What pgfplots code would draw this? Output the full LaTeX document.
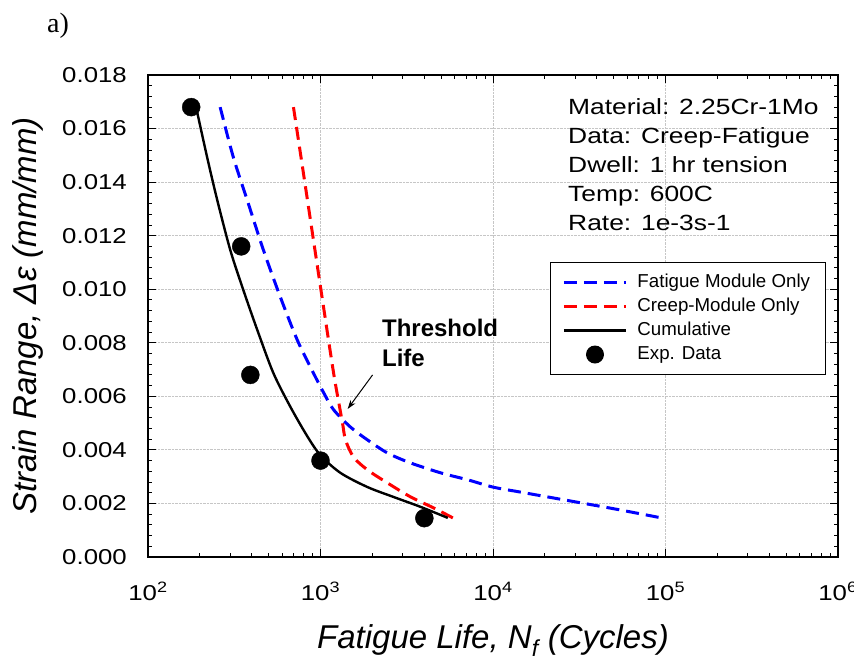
\documentclass[border=0pt]{standalone}
\usepackage{fontspec}
\setmainfont{Liberation Sans}
\newfontfamily\widesans{Liberation Sans}[FakeStretch=1.2]
\newfontfamily\serifa{Liberation Serif}
\usepackage{pgfplots}
\pgfplotsset{compat=1.18}
\usetikzlibrary{arrows.meta}
\pgfplotsset{
  lineleg/.style={legend image code/.code={\draw[##1] (0pt,0pt) -- (62pt,0pt);}},
  markleg/.style={legend image code/.code={\path[draw=none] (0pt,0pt) -- (62pt,0pt); \fill[black, draw=none] (31pt,0pt) circle[radius=9pt];}},
}

\begin{document}
\begin{tikzpicture}
\begin{axis}[
    at={(0pt,0pt)}, anchor=south west,
    scale only axis, width=690pt, height=482pt,
    xmode=log, xmin=100, xmax=1e6,
    ymin=0, ymax=0.018,
    xtick={100,1000,10000,100000,1000000},
    xticklabels={10\textsuperscript{2},10\textsuperscript{3},10\textsuperscript{4},10\textsuperscript{5},10\textsuperscript{6}},
    minor xtick={200,300,400,500,600,700,800,900,
                 2000,3000,4000,5000,6000,7000,8000,9000,
                 20000,30000,40000,50000,60000,70000,80000,90000,
                 200000,300000,400000,500000,600000,700000,800000,900000},
    ytick={0,0.002,0.004,0.006,0.008,0.010,0.012,0.014,0.016,0.018},
    minor y tick num=4,
    scaled y ticks=false,
    /pgf/number format/.cd, fixed, fixed zerofill, precision=3, assume math mode=true,
    /pgfplots/.cd,
    tick align=inside,
    major tick length=8pt, minor tick length=4.5pt,
    every tick/.style={black, line width=0.9pt},
    axis line style={line width=1.3pt},
    grid=major,
    major grid style={densely dotted, gray!45, line width=0.8pt},
    yticklabel style={font=\widesans\fontsize{21.5}{21.5}\selectfont, inner sep=0pt, xshift=-21pt},
    xticklabel style={font=\widesans\fontsize{21.5}{21.5}\selectfont, inner sep=0pt, anchor=north, yshift=-25pt},
    xlabel={Fatigue Life, N\textsubscript{f} (Cycles)},
    ylabel={Strain Range, Δε (mm/mm)},
    label style={font=\itshape\fontsize{33}{33}\selectfont},
    xlabel style={at={(axis description cs:0.5,-0.189)}, anchor=base},
    ylabel style={at={(axis description cs:-0.174,0.5)}, anchor=center},
    legend style={at={(axis description cs:0.5826,0.612)}, anchor=north west,
        draw=black, line width=1pt,
        font=\fontsize{18.7}{18.7}\selectfont,
        inner xsep=12pt, inner ysep=8pt, column sep=7pt,
        nodes={inner xsep=3pt, inner ysep=3pt, text height=14pt, text depth=4pt}},
    legend cell align=left,
]
\addplot[blue, line width=3pt, dash pattern=on 13pt off 7pt, smooth, lineleg]
  coordinates {
    (262,0.0168) (312,0.01494) (376,0.01333) (467,0.01146) (585,0.00971)
    (734,0.0081) (910,0.00687) (1050,0.0061) (1191,0.0055) (1493,0.00485)
    (1875,0.00437) (2452,0.00388) (3337,0.00351) (4990,0.00314) (7160,0.00288)
    (10000,0.00261) (13970,0.00244) (21730,0.00222) (33800,0.0020) (53300,0.00177)
    (94800,0.00146)
  };
\addlegendentry{Fatigue Module Only}
\addplot[red, line width=3pt, dash pattern=on 13pt off 7pt, smooth, lineleg]
  coordinates {
    (697,0.0168) (796,0.01434) (910,0.01184) (1041,0.00934) (1191,0.00687)
    (1290,0.0056) (1342,0.0050) (1397,0.00437) (1555,0.00373) (1875,0.00325)
    (2452,0.00276) (3337,0.00224) (4540,0.00183) (5850,0.00146)
  };
\addlegendentry{Creep-Module Only}
\addplot[black, line width=2.4pt, smooth, lineleg]
  coordinates {
    (190,0.0168) (220,0.01494) (252,0.01333) (300,0.01146) (357,0.00997)
    (430,0.00848) (533,0.00687) (670,0.0056) (840,0.0045) (1000,0.0038)
    (1306,0.00314) (1875,0.00261) (2656,0.00224) (3810,0.00187) (5470,0.00146)
  };
\addlegendentry{Cumulative}
\addplot[only marks, mark=*, mark size=9pt, black, markleg]
  coordinates {
    (178,0.0168) (347,0.0116) (392,0.0068) (1000,0.0036) (4000,0.00145)
  };
\addlegendentry{Exp. Data}

\node[anchor=base west, inner sep=0pt, font=\bfseries\fontsize{24}{24}\selectfont]
  at (axis description cs:0.339,0.4585) {Threshold};
\node[anchor=base west, inner sep=0pt, font=\bfseries\fontsize{24}{24}\selectfont]
  at (axis description cs:0.339,0.396) {Life};
\draw[-{Stealth[length=9pt,width=6pt]}, line width=1pt]
  (axis cs:2004,0.0068) -- (axis cs:1437,0.00553);

\begin{scope}[every node/.style={anchor=base west, inner sep=0pt,
    font=\widesans\fontsize{22}{22}\selectfont}]
\node at (axis description cs:0.6087,0.9184) {Material: 2.25Cr-1Mo};
\node at (axis description cs:0.6087,0.8583) {Data: Creep-Fatigue};
\node at (axis description cs:0.6087,0.7972) {Dwell: 1 hr tension};
\node at (axis description cs:0.6087,0.7371) {Temp: 600C};
\node at (axis description cs:0.6087,0.6784) {Rate: 1e-3s-1};
\end{scope}
\end{axis}
\node[anchor=base west, inner sep=0pt, font=\serifa\fontsize{28}{28}\selectfont]
  at (-101pt,524pt) {a)};
\pgfresetboundingbox
\path[use as bounding box] (-148pt,-110pt) rectangle (706pt,557pt);
\end{tikzpicture}
\end{document}
